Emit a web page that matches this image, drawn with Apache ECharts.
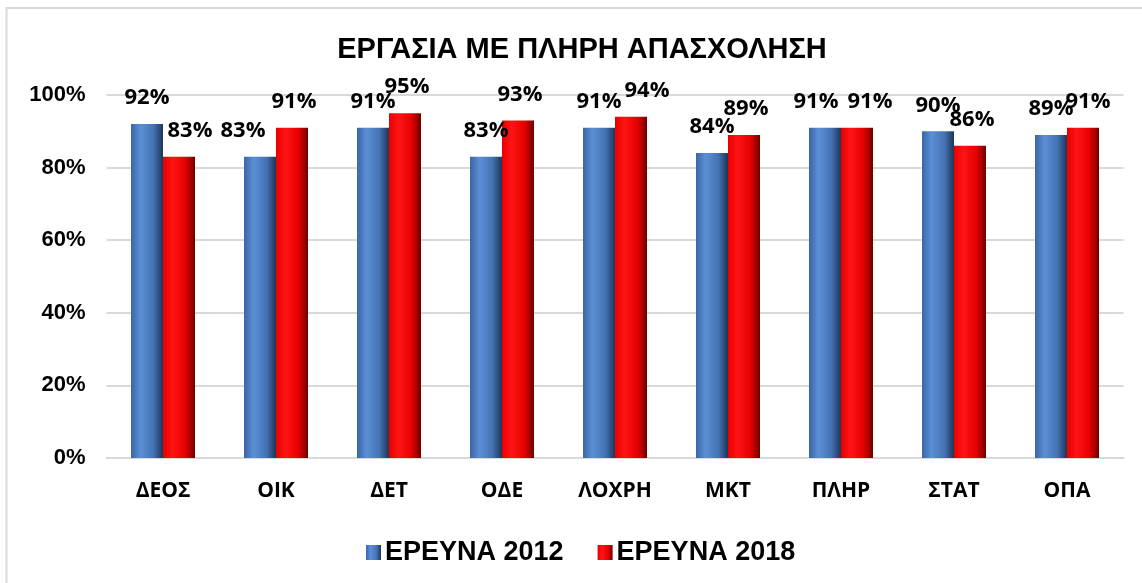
<!DOCTYPE html>
<html>
<head>
<meta charset="utf-8">
<script src="https://cdn.jsdelivr.net/npm/echarts@6/dist/echarts.min.js"></script>
<style>
  html, body { margin: 0; padding: 0; background: #ffffff; }
  #chart { width: 1142px; height: 583px; }
</style>
</head>
<body>
<div id="chart"></div>
<script>
// Employment survey: share in full-time work, by department
const categories = ['ΔΕΟΣ', 'ΟΙΚ', 'ΔΕΤ', 'ΟΔΕ', 'ΛΟΧΡΗ', 'ΜΚΤ', 'ΠΛΗΡ', 'ΣΤΑΤ', 'ΟΠΑ'];
const survey2012 = [92, 83, 91, 83, 91, 84, 91, 90, 89];
const survey2018 = [83, 91, 95, 93, 94, 89, 91, 86, 91];
const seriesNames = ['ΕΡΕΥΝΑ 2012', 'ΕΡΕΥΝΑ 2018'];
const yTicks = [0, 20, 40, 60, 80, 100];
const chartTitle = 'ΕΡΓΑΣΙΑ ΜΕ ΠΛΗΡΗ ΑΠΑΣΧΟΛΗΣΗ';

const blueFill = new echarts.graphic.LinearGradient(0, 0, 1, 0, [
  { offset: 0, color: '#3a66a6' },
  { offset: 0.3, color: '#5b8fd5' },
  { offset: 0.7, color: '#4473b4' },
  { offset: 1, color: '#1e3658' }
]);
const redFill = new echarts.graphic.LinearGradient(0, 0, 1, 0, [
  { offset: 0, color: '#e80000' },
  { offset: 0.3, color: '#ff1414' },
  { offset: 0.7, color: '#e60000' },
  { offset: 1, color: '#700000' }
]);

const labelFont = {
  fontFamily: '"Open Sans", "DejaVu Sans", sans-serif',
  fontWeight: 'bold',
  fontSize: 22,
  color: '#000000'
};

// a few value labels are nudged sideways so neighbours do not collide
const nudge2012 = { 1: -17, 6: -9 };
const nudge2018 = { 0: 11, 4: 16, 6: 13, 8: 5 };

function buildData(values, nudges, baseShift) {
  return values.map((v, i) => {
    const dx = (nudges[i] !== undefined) ? nudges[i] : baseShift;
    return { value: v, label: { offset: [dx, 0] } };
  });
}

const chart = echarts.init(document.getElementById('chart'), null, { renderer: 'canvas' });

chart.setOption({
  backgroundColor: '#ffffff',
  animation: false,
  graphic: [{
    type: 'rect',
    shape: { x: 6.5, y: 8, width: 1160, height: 600 },
    style: { fill: 'none', stroke: '#d9d9d9', lineWidth: 2 },
    silent: true
  }],
  title: {
    text: chartTitle,
    left: 577,
    textAlign: 'center',
    top: 30,
    textStyle: {
      fontFamily: '"Liberation Sans", Arial, sans-serif',
      fontWeight: 'bold',
      fontSize: 29,
      color: '#000000'
    }
  },
  legend: {
    data: seriesNames,
    left: 361,
    top: 534,
    icon: 'rect',
    itemWidth: 15,
    itemHeight: 15,
    itemGap: 34,
    textStyle: {
      fontFamily: '"Liberation Sans", Arial, sans-serif',
      fontWeight: 'bold',
      fontSize: 27,
      color: '#000000',
      padding: [0, 0, 0, -1]
    }
  },
  grid: { left: 106.5, right: 18.5, top: 95, bottom: 125, containLabel: false },
  xAxis: {
    type: 'category',
    data: categories,
    axisTick: { show: false },
    axisLine: { show: true, lineStyle: { color: '#d9d9d9', width: 2 } },
    axisLabel: {
      margin: 23,
      fontFamily: '"Open Sans", "DejaVu Sans", sans-serif',
      fontWeight: 'bold',
      fontSize: 21,
      color: '#000000'
    }
  },
  yAxis: {
    type: 'value',
    min: yTicks[0],
    max: yTicks[yTicks.length - 1],
    interval: yTicks[1] - yTicks[0],
    axisLine: { show: false },
    axisTick: { show: false },
    splitLine: { lineStyle: { color: '#d9d9d9', width: 2 } },
    axisLabel: {
      margin: 21,
      formatter: v => v + '%',
      fontFamily: '"Liberation Sans", Arial, sans-serif',
      fontWeight: 'bold',
      fontSize: 22,
      color: '#000000'
    }
  },
  series: [
    {
      name: seriesNames[0],
      type: 'bar',
      barWidth: 32,
      barGap: '0%',
      itemStyle: { color: blueFill },
      label: Object.assign({ show: true, position: 'top', distance: 15, formatter: p => p.value + '%' }, labelFont),
      data: buildData(survey2012, nudge2012, 0)
    },
    {
      name: seriesNames[1],
      type: 'bar',
      barWidth: 32,
      barGap: '0%',
      itemStyle: { color: redFill },
      label: Object.assign({ show: true, position: 'top', distance: 15, formatter: p => p.value + '%' }, labelFont),
      data: buildData(survey2018, nudge2018, 2)
    }
  ]
});
</script>
</body>
</html>
